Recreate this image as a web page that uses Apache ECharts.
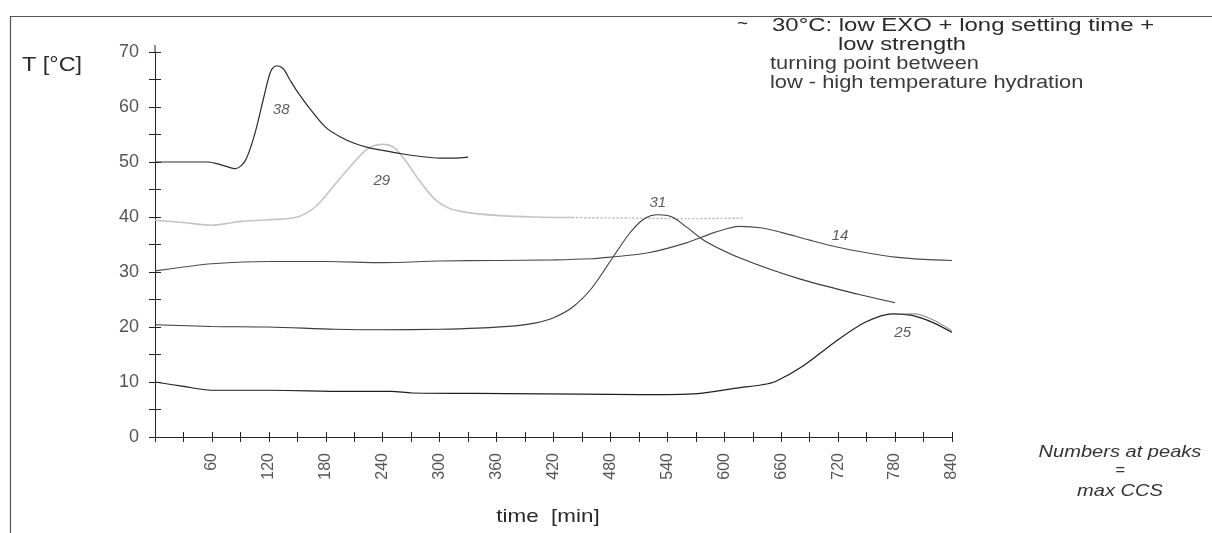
<!DOCTYPE html>
<html>
<head>
<meta charset="utf-8">
<script src="https://cdn.jsdelivr.net/npm/echarts@6/dist/echarts.min.js"></script>
<style>
html,body{margin:0;padding:0;background:#fff;}
#chart{width:1212px;height:533px;}
</style>
</head>
<body>
<div id="chart"></div>
<script>
// ---- data (time in min, temperature in °C) ----
const yTicks = [0, 10, 20, 30, 40, 50, 60, 70];
const xTickLabels = [60, 120, 180, 240, 300, 360, 420, 480, 540, 600, 660, 720, 780, 840];

const s38 = [[0,50],[30,50],[55,50],[65,49.7],[75,49.2],[85,48.8],[95,50.2],[105,55],[115,62],[122,66.5],[128,67.5],[135,67],[142,65],[150,62.8],[165,59.3],[180,56.3],[195,54.6],[210,53.4],[225,52.6],[240,52.1],[260,51.5],[280,51],[300,50.7],[315,50.7],[330,50.9]];
const s29 = [[0,39.4],[30,39],[60,38.5],[75,38.8],[90,39.2],[120,39.5],[150,40],[170,42],[190,46],[210,50],[225,52.5],[240,53.2],[252,52.6],[265,50],[280,46.3],[295,43.2],[310,41.6],[330,40.8],[360,40.3],[400,40],[440,39.9]];
const s29b = [[440,39.9],[500,39.8],[560,39.7],[620,39.8]];
const s14 = [[0,30.2],[30,30.9],[60,31.5],[120,31.9],[180,31.9],[240,31.7],[300,32],[360,32.1],[420,32.2],[460,32.4],[480,32.7],[520,33.5],[560,35.3],[590,37.2],[616,38.3],[640,38],[660,37.2],[690,35.8],[720,34.5],[750,33.5],[780,32.7],[810,32.3],[840,32.1]];
const s31 = [[0,20.4],[60,20.1],[120,20],[190,19.6],[240,19.5],[300,19.6],[340,19.8],[380,20.2],[400,20.7],[420,21.7],[440,23.6],[460,27],[480,32],[500,37],[515,39.6],[530,40.4],[545,40],[560,38.2],[580,35.6],[620,32.3],[680,28.7],[740,26],[780,24.4]];
const s25 = [[0,10],[30,9.2],[59,8.5],[123,8.5],[200,8.3],[249,8.3],[271,8],[370,7.9],[450,7.8],[511,7.7],[572,7.9],[613,8.9],[640,9.5],[654,10.1],[683,12.9],[716,17.2],[749,20.9],[778,22.4],[798,22.1],[820,20.8],[840,19]];
const s25b = [[785,22.3],[800,22.4],[820,21.3],[840,19.3]];

const peakLabels = [
  {name:'38', t:133, v:59.5},
  {name:'29', t:239, v:46.6},
  {name:'31', t:530, v:42.6},
  {name:'14', t:722, v:36.6},
  {name:'25', t:788, v:19}
];

const chart = echarts.init(document.getElementById('chart'));
const FONT = '"Liberation Sans", Arial, sans-serif';
const line = (data, color, width, type) => ({
  type:'line', data, showSymbol:false, smooth:0.3, silent:true,
  lineStyle:{color, width, type: type || 'solid'}, z:3
});
const txt = (text, x, y, size, sx, extra) => Object.assign({
  type:'text', x, y, scaleX:sx, silent:true,
  style:Object.assign({text, fill:'#2a2a2a', font: size + 'px ' + FONT, verticalAlign:'middle', align:'left'}, extra || {})
});

const option = {
  animation:false,
  backgroundColor:'#fff',
  grid:{left:155, right:260, top:52, bottom:96},
  xAxis:[{
    type:'value', min:0, max:840, interval:30,
    axisLine:{show:true, lineStyle:{color:'#222', width:1}},
    axisTick:{show:true, length:5, lineStyle:{color:'#222'}},
    splitLine:{show:false},
    axisLabel:{rotate:90, color:'#555', fontFamily:FONT, fontSize:16, margin:16,
      formatter:v => (xTickLabels.indexOf(v) >= 0 ? String(v) : '')}
  },{
    type:'value', min:0, max:840, interval:30, position:'bottom',
    axisLine:{show:false}, axisLabel:{show:false}, splitLine:{show:false},
    axisTick:{show:true, inside:true, length:5, lineStyle:{color:'#222'}}
  }],
  yAxis:[{
    type:'value', min:0, max:70, interval:10,
    axisLine:{show:true, lineStyle:{color:'#222', width:1}},
    axisTick:{show:true, length:6, lineStyle:{color:'#222'}},
    minorTick:{show:true, splitNumber:2, length:6, lineStyle:{color:'#222'}},
    splitLine:{show:false},
    axisLabel:{color:'#555', fontFamily:FONT, fontSize:18, margin:16,
      formatter:v => (yTicks.indexOf(v) >= 0 ? String(v) : '')}
  },{
    type:'value', min:0, max:70, interval:10, position:'left',
    axisLine:{show:false}, axisLabel:{show:false}, splitLine:{show:false},
    axisTick:{show:true, inside:true, length:6, lineStyle:{color:'#222'}},
    minorTick:{show:true, splitNumber:2, length:6, lineStyle:{color:'#222'}}
  }],
  series:[
    line(s29, '#c4c4c4', 1.6),
    line(s29b, '#b4b4b4', 1.4, [2,2]),
    line(s14, '#4a4a4a', 1.1),
    line(s31, '#3a3a3a', 1.1),
    line(s25, '#1e1e1e', 1.2),
    line(s25b, '#666', 0.9),
    line(s38, '#2a2a2a', 1.2),
    {
      type:'scatter', symbolSize:0, silent:true, z:4,
      data: peakLabels.map(p => ({value:[p.t, p.v], label:{show:true, formatter:p.name}})),
      label:{show:true, position:'inside', color:'#333', fontFamily:FONT, fontSize:15, fontStyle:'italic'}
    }
  ],
  graphic:[
    {type:'rect', left:8, top:14, shape:{width:1230, height:517}, style:{fill:'none', stroke:'#555', lineWidth:1.2}, silent:true},
    {type:'line', silent:true, shape:{x1:155, y1:45, x2:155, y2:52}, style:{stroke:'#222', lineWidth:1}},
    txt('T [°C]', 22, 65, 20, 1.17),
    txt('~', 737, 24, 19, 1),
    txt('30°C: low EXO + long setting time +', 772, 26, 19, 1.26),
    txt('low strength', 838, 45, 19, 1.25),
    txt('turning point between', 770, 64, 19, 1.15, {fill:'#3a3a3a'}),
    txt('low - high temperature hydration', 770, 83, 19, 1.15, {fill:'#3a3a3a'}),
    txt('time  [min]', 548, 517, 19, 1.18, {align:'center'}),
    txt('Numbers at peaks', 1120, 452, 17, 1.18, {align:'center', font:'italic 17px ' + FONT, fill:'#333'}),
    txt('=', 1120, 471, 15, 1.1, {align:'center', font:'italic 15px ' + FONT, fill:'#333'}),
    txt('max CCS', 1120, 491, 17, 1.18, {align:'center', font:'italic 17px ' + FONT, fill:'#333'})
  ]
};
chart.setOption(option);
</script>
</body>
</html>
